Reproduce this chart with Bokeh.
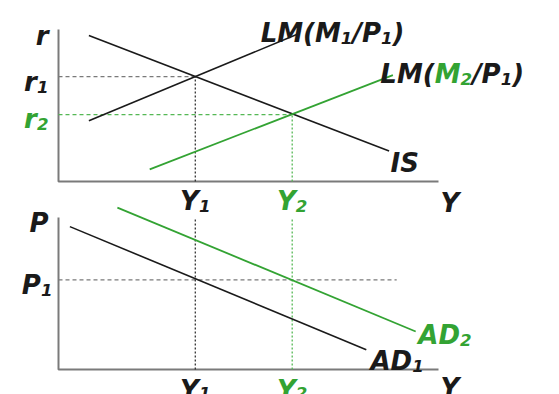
from bokeh.plotting import figure
from bokeh.models import Range1d, Label
from bokeh.embed import file_html
from bokeh.resources import INLINE

# ---------------- data ----------------
Y1, Y2 = 3.6, 6.15          # output levels
r1, r2 = 6.9, 4.4           # interest rates
P1 = 5.9                    # price level

is_x = [0.8, 8.7]
is_y = [9.6, 2.0]
lm1_x = [0.8, 6.3]
lm1_y = [4.0, 9.7]
lm2_x = [2.4, 8.8]
lm2_y = [0.8, 7.0]

ad1_x = [0.3, 8.1]
ad1_y = [9.4, 1.3]
ad2_x = [1.55, 9.4]
ad2_y = [10.65, 2.5]

axis_max = 10
p1_line_end = 8.9

GREEN = "#33a333"
LGREEN = "#55b855"
BLACK = "#1a1a1a"
GRAY = "#7a7a7a"
FONT = "DejaVu Sans"
FS = 26
SUB = 0.64

PX_X = 38.0     # pixels per x unit
PX_Y = 15.2     # pixels per y unit
k = 1 / PX_Y
H = 394
TOP_AXIS = 181  # pixel row of the IS-LM horizontal axis
BOT_AXIS = 369  # pixel row of the AD horizontal axis

# approx advance widths (em) for DejaVu Sans Bold
W = {"L": .637, "M": .995, "(": .457, ")": .457, "/": .365, "P": .733,
     "1": .696, "2": .696, "A": .774, "D": .830, "I": .372, "S": .720,
     "r": .493, "Y": .724}


def tw(s, size):
    return sum(W.get(c, .6) for c in s) * size


def rich(p, x, y, pieces, align="left", dx=0, rng="default", sub_drop=5):
    sizes = [FS * SUB if sub else FS for _, _, sub in pieces]
    total = sum(tw(t, s) for (t, _, _), s in zip(pieces, sizes))
    off = dx
    if align == "right":
        off -= total
    elif align == "center":
        off -= total / 2
    for (t, c, sub), s in zip(pieces, sizes):
        p.add_layout(Label(x=x, y=y - (sub_drop * k if sub else 0), x_offset=off,
                           y_range_name=rng,
                           text=t, text_color=c, text_font=FONT,
                           text_font_style="bold italic",
                           text_font_size=f"{s:.1f}px", text_align="left",
                           text_baseline="alphabetic"))
        off += tw(t, s)


p = figure(width=559, height=H, output_backend="svg",
           toolbar_location=None, x_axis_type=None, y_axis_type=None,
           x_range=Range1d(-58 / PX_X, (559 - 58) / PX_X),
           y_range=Range1d(-(H - TOP_AXIS) / PX_Y, TOP_AXIS / PX_Y),
           min_border_left=0, min_border_right=0,
           min_border_top=0, min_border_bottom=0)
p.extra_y_ranges = {"ad": Range1d(-(H - BOT_AXIS) / PX_Y, BOT_AXIS / PX_Y)}
p.outline_line_color = None
p.grid.visible = False

# ---------------- top panel: IS-LM ----------------
p.line([0, 0, axis_max], [axis_max, 0, 0], line_color=GRAY, line_width=2)
p.line([0, Y1], [r1, r1], line_color=GRAY, line_width=1.3, line_dash="4 3")
p.line([0, Y2], [r2, r2], line_color=LGREEN, line_width=1.3, line_dash="4 3")
p.line([Y1, Y1], [0, r1], line_color="#333333", line_width=1.3, line_dash="2 2")
p.line([Y2, Y2], [0, r2], line_color=LGREEN, line_width=1.3, line_dash="2 2")
p.line(is_x, is_y, line_color=BLACK, line_width=1.6)
p.line(lm1_x, lm1_y, line_color=BLACK, line_width=1.6)
p.line(lm2_x, lm2_y, line_color=GREEN, line_width=1.8)

rich(p, 0, axis_max - 0.45, [("r", BLACK, False)], align="right", dx=-10)
rich(p, 0, r1 - 5 * k, [("r", BLACK, False), ("1", BLACK, True)], align="right", dx=-10)
rich(p, 0, r2 - 4 * k, [("r", GREEN, False), ("2", GREEN, True)], align="right", dx=-10)
rich(p, 5.32, 9.74, [("LM(M", BLACK, False), ("1", BLACK, True), ("/P", BLACK, False),
                     ("1", BLACK, True), (")", BLACK, False)])
rich(p, 8.47, 7.1, [("LM(", BLACK, False), ("M", GREEN, False), ("2", GREEN, True),
                    ("/P", BLACK, False), ("1", BLACK, True), (")", BLACK, False)])
rich(p, 8.74, 1.25, [("IS", BLACK, False)])
rich(p, Y1, -19 * k, [("Y", BLACK, False), ("1", BLACK, True)], align="center")
rich(p, Y2, -19 * k, [("Y", GREEN, False), ("2", GREEN, True)], align="center")
rich(p, 10.05, -21 * k, [("Y", BLACK, False)])

# ---------------- bottom panel: AD ----------------
AD = dict(y_range_name="ad")
p.line([0, 0, axis_max], [axis_max, 0, 0], line_color=GRAY, line_width=2, **AD)
p.line([0, p1_line_end], [P1, P1], line_color=GRAY, line_width=1.3, line_dash="4 3", **AD)
p.line([Y1, Y1], [0, axis_max], line_color="#333333", line_width=1.3, line_dash="2 2", **AD)
p.line([Y2, Y2], [0, axis_max], line_color=LGREEN, line_width=1.3, line_dash="2 2", **AD)
p.line(ad1_x, ad1_y, line_color=BLACK, line_width=1.6, **AD)
p.line(ad2_x, ad2_y, line_color=GREEN, line_width=1.8, **AD)

rich(p, 0, axis_max - 0.33, [("P", BLACK, False)], align="right", dx=-10, rng="ad")
rich(p, 0, P1 - 5 * k, [("P", BLACK, False), ("1", BLACK, True)], align="right", dx=-6, rng="ad")
rich(p, 9.47, 2.24, [("AD", GREEN, False), ("2", GREEN, True)], rng="ad")
rich(p, 8.21, 0.59, [("AD", BLACK, False), ("1", BLACK, True)], rng="ad")
rich(p, 10.05, -18 * k, [("Y", BLACK, False)], rng="ad")
rich(p, Y1, -20 * k, [("Y", BLACK, False), ("1", BLACK, True)], align="center", rng="ad", sub_drop=3)
rich(p, Y2, -20 * k, [("Y", GREEN, False), ("2", GREEN, True)], align="center", rng="ad", sub_drop=3)

open("out.html", "w").write(file_html(p, INLINE))
